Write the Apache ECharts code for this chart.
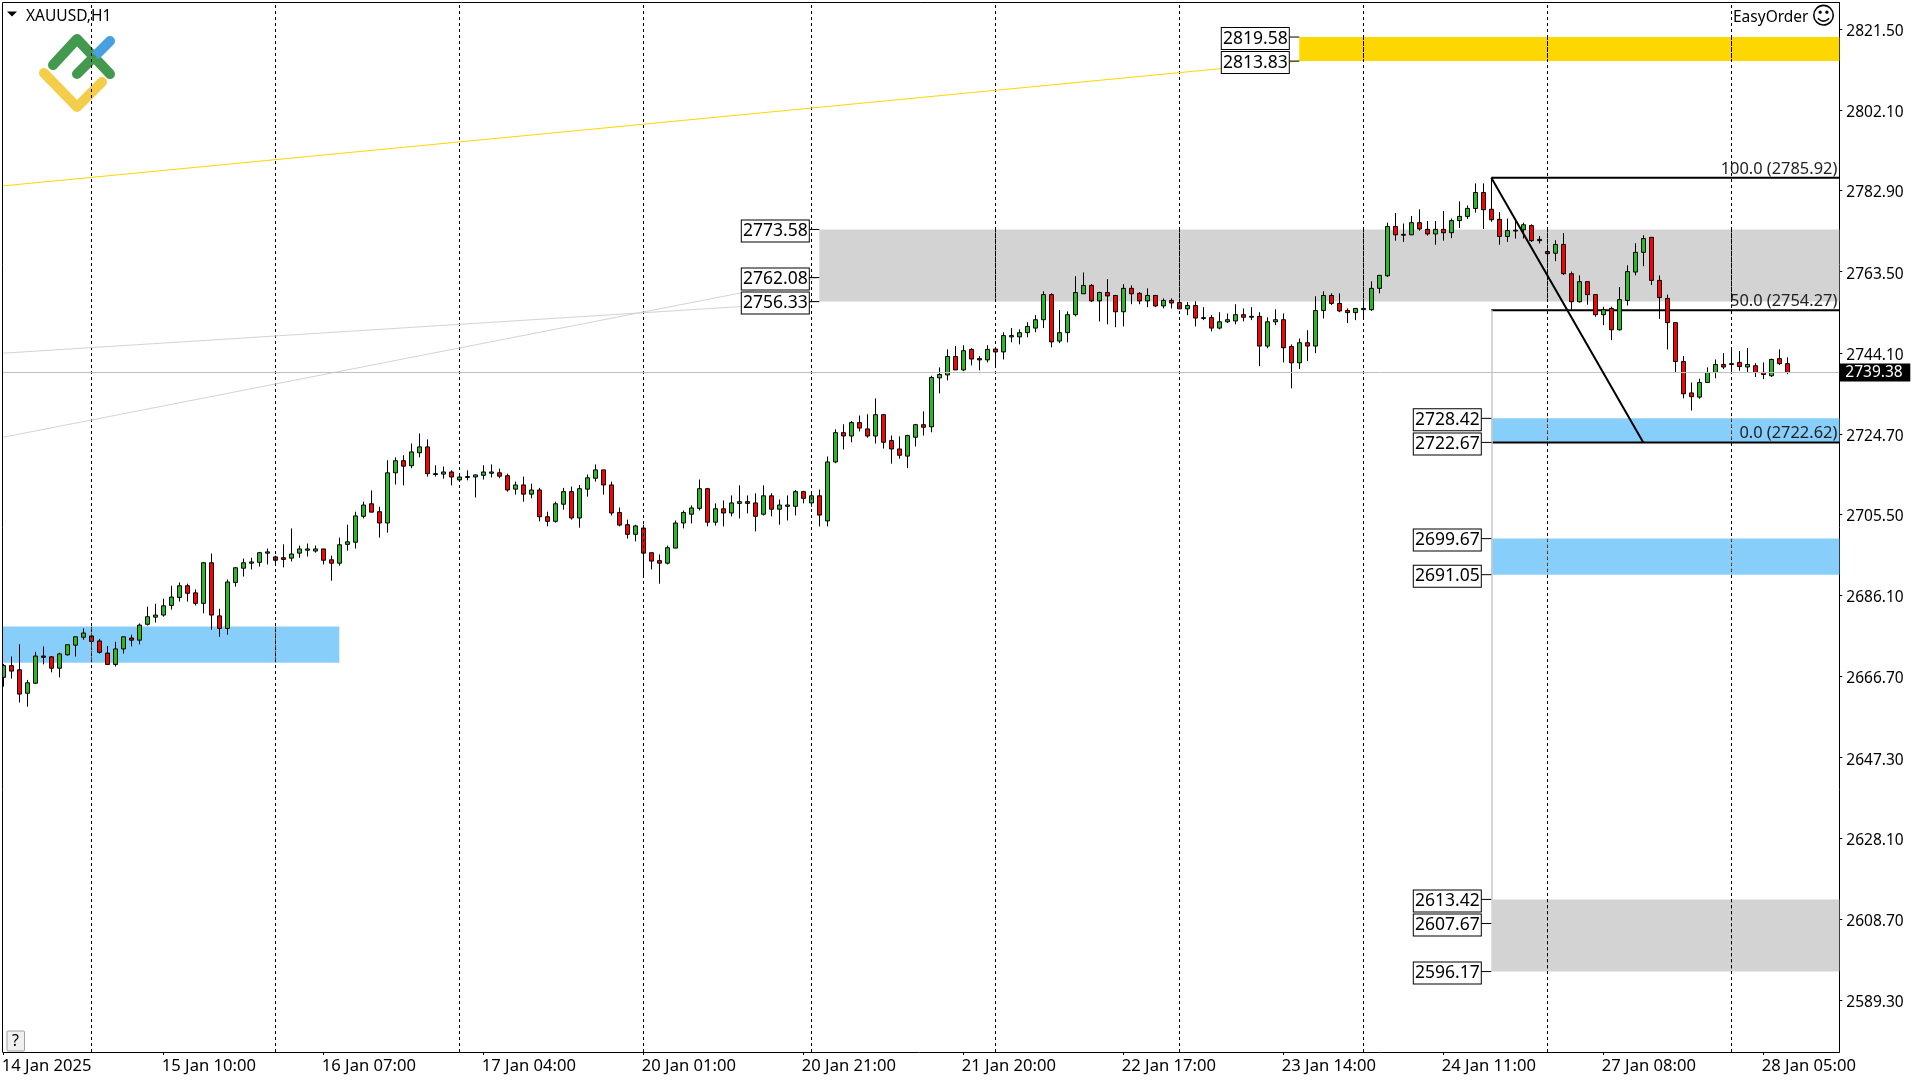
<!DOCTYPE html>
<html>
<head>
<meta charset="utf-8">
<title>XAUUSD,H1</title>
<style>
html,body{margin:0;padding:0;background:#fff;}
#content{width:1920px;height:1080px;}
</style>
<script src="https://cdn.jsdelivr.net/npm/echarts@6/dist/echarts.min.js"></script>
</head>
<body>
<div id="content"></div>
<script>
// [open, close, low, high]
var candles = [
[2666.5,2669.3,2664.3,2669.7],[2669.3,2668.0,2666.2,2671.5],[2668.3,2662.5,2660.5,2674.4],[2662.7,2665.2,2659.5,2665.9],
[2665.1,2671.6,2664.9,2672.6],[2671.6,2671.3,2669.6,2673.9],[2671.4,2668.7,2667.7,2671.6],[2668.7,2672.1,2666.5,2672.4],
[2671.9,2674.3,2671.7,2674.3],[2674.2,2676.2,2671.5,2676.2],[2676.1,2677.1,2675.5,2678.2],[2676.4,2675.1,2673.6,2676.4],
[2675.2,2672.5,2672.2,2675.7],[2672.3,2669.6,2669.6,2674.0],[2669.6,2673.3,2669.1,2675.0],[2673.3,2676.2,2672.2,2676.2],
[2675.9,2675.4,2673.9,2676.7],[2675.4,2679.0,2674.4,2679.4],[2679.2,2681.0,2678.9,2683.4],[2680.9,2681.4,2679.6,2684.1],
[2681.4,2683.6,2681.0,2685.3],[2683.7,2685.7,2682.7,2688.4],[2685.6,2688.4,2684.6,2689.2],[2688.4,2686.6,2684.6,2688.9],
[2686.7,2684.2,2683.7,2687.5],[2684.2,2693.9,2681.8,2694.1],[2693.9,2681.4,2677.9,2696.1],[2681.2,2678.2,2676.2,2682.9],
[2678.2,2689.3,2676.7,2689.9],[2689.2,2692.7,2688.2,2692.9],[2692.6,2693.9,2690.6,2694.9],[2693.8,2694.1,2692.3,2695.1],
[2694.0,2696.3,2693.0,2696.5],[2696.2,2696.5,2693.5,2697.3],[2695.3,2694.5,2693.6,2695.6],[2695.1,2694.7,2692.8,2698.3],
[2695.0,2696.0,2694.2,2702.1],[2696.2,2697.2,2695.1,2698.0],[2696.9,2697.2,2695.4,2698.5],[2696.7,2697.2,2696.3,2698.0],
[2697.2,2694.5,2693.5,2697.2],[2694.6,2693.8,2689.6,2695.6],[2693.8,2698.2,2693.2,2699.9],[2698.3,2698.9,2696.8,2703.0],
[2698.8,2705.1,2697.3,2706.1],[2705.0,2707.7,2704.5,2708.5],[2708.0,2706.0,2706.0,2711.2],[2706.1,2703.4,2699.9,2707.3],
[2703.4,2715.4,2701.1,2718.4],[2715.4,2718.3,2712.6,2719.1],[2718.3,2717.0,2712.4,2719.6],[2717.1,2720.4,2716.5,2722.4],
[2720.2,2721.6,2719.1,2724.8],[2721.6,2715.2,2714.5,2723.4],[2715.0,2715.2,2714.5,2717.2],[2715.1,2715.6,2714.0,2716.9],
[2715.6,2714.4,2712.4,2716.0],[2713.7,2714.4,2713.6,2714.7],[2714.3,2714.5,2713.6,2716.0],[2714.4,2714.9,2709.5,2715.0],
[2714.8,2715.6,2713.8,2717.2],[2715.3,2715.6,2714.3,2717.4],[2715.4,2714.6,2714.1,2716.4],[2714.7,2711.3,2710.9,2715.2],
[2711.5,2712.5,2710.2,2713.3],[2712.5,2710.3,2708.5,2714.5],[2710.3,2711.3,2709.3,2712.8],[2711.3,2704.9,2703.8,2711.8],
[2704.9,2703.8,2702.6,2706.1],[2703.8,2708.0,2703.5,2708.5],[2707.9,2710.9,2706.6,2711.8],[2710.9,2704.6,2704.2,2712.1],
[2704.6,2711.6,2702.3,2712.5],[2711.5,2714.2,2709.7,2715.0],[2714.1,2716.1,2713.3,2717.4],[2716.1,2712.5,2710.2,2716.1],
[2712.5,2705.8,2705.2,2713.3],[2705.9,2702.9,2702.6,2707.1],[2703.0,2700.7,2699.7,2704.2],[2700.7,2702.7,2699.0,2703.0],
[2702.2,2696.2,2690.6,2703.0],[2696.3,2694.3,2692.3,2696.3],[2694.4,2693.8,2688.9,2695.9],[2693.8,2697.5,2693.5,2698.0],
[2697.4,2703.4,2697.4,2704.0],[2703.4,2705.9,2702.1,2706.4],[2705.5,2707.0,2703.3,2707.6],[2706.9,2711.6,2706.4,2713.8],
[2711.6,2703.6,2702.6,2711.8],[2703.6,2706.8,2702.8,2708.1],[2706.8,2705.8,2702.6,2708.8],[2705.8,2708.2,2705.0,2710.0],
[2708.1,2708.5,2704.5,2712.4],[2708.5,2708.1,2705.7,2710.0],[2708.2,2705.0,2701.4,2710.5],[2705.5,2709.9,2705.2,2712.4],
[2709.9,2706.7,2705.0,2710.5],[2706.7,2707.7,2703.0,2709.0],[2707.4,2707.7,2704.0,2710.0],[2707.4,2710.9,2705.2,2711.3],
[2710.9,2709.3,2708.1,2711.1],[2708.2,2709.9,2707.3,2710.8],[2709.9,2705.3,2702.6,2711.4],[2703.9,2718.0,2702.6,2719.3],
[2718.0,2725.0,2717.7,2725.8],[2725.0,2724.2,2721.0,2727.0],[2724.2,2727.4,2722.7,2727.8],[2727.4,2726.1,2725.3,2729.1],
[2725.9,2724.2,2723.8,2729.4],[2724.2,2729.3,2722.4,2733.2],[2729.3,2722.7,2721.2,2729.5],[2723.1,2721.1,2717.6,2724.3],
[2721.1,2719.6,2718.8,2724.1],[2719.4,2724.3,2716.5,2724.5],[2723.9,2726.9,2721.7,2727.1],[2726.9,2726.3,2724.3,2730.1],
[2726.4,2738.2,2725.1,2738.6],[2738.1,2738.9,2734.4,2740.6],[2738.8,2743.2,2737.5,2744.9],[2743.2,2740.0,2740.0,2745.7],
[2740.0,2744.6,2739.7,2745.9],[2744.9,2742.6,2741.1,2745.2],[2742.7,2742.4,2739.9,2743.3],[2742.4,2744.9,2741.8,2745.9],
[2745.0,2744.3,2741.1,2745.0],[2744.3,2748.2,2742.5,2749.0],[2747.9,2748.2,2746.6,2750.0],[2747.9,2748.9,2746.1,2749.7],
[2748.9,2750.4,2747.8,2751.4],[2750.0,2752.0,2749.0,2753.1],[2752.0,2758.0,2750.0,2758.8],[2758.0,2746.7,2745.4,2758.3],
[2746.9,2748.9,2746.4,2754.3],[2748.9,2753.2,2746.6,2754.0],[2753.2,2758.5,2752.8,2762.4],[2758.2,2760.2,2758.2,2763.3],
[2760.2,2756.5,2756.2,2760.5],[2756.5,2758.5,2751.6,2758.7],[2758.5,2757.7,2750.9,2761.7],[2757.8,2753.9,2750.2,2757.9],
[2753.9,2759.5,2750.4,2760.5],[2759.5,2758.2,2755.7,2760.2],[2758.3,2756.5,2755.7,2758.6],[2756.5,2757.8,2755.0,2759.5],
[2757.8,2755.3,2755.0,2757.8],[2755.3,2756.6,2754.7,2757.1],[2756.6,2756.0,2754.7,2757.1],[2756.1,2754.6,2754.6,2756.3],
[2754.6,2755.4,2753.1,2756.2],[2755.4,2752.4,2750.4,2756.4],[2752.5,2752.3,2751.9,2755.0],[2752.5,2750.0,2749.2,2753.1],
[2750.0,2751.5,2749.7,2753.8],[2751.5,2752.0,2751.2,2753.5],[2751.7,2753.2,2750.9,2755.7],[2753.2,2752.6,2751.6,2754.7],
[2752.6,2752.8,2751.9,2755.0],[2752.8,2745.7,2740.9,2753.8],[2745.7,2751.5,2745.2,2752.6],[2751.5,2752.0,2750.7,2754.5],
[2752.0,2745.3,2741.8,2753.5],[2745.6,2741.7,2735.6,2746.1],[2741.7,2746.5,2740.2,2747.5],[2746.5,2745.7,2742.1,2749.5],
[2745.7,2754.2,2744.0,2757.6],[2754.2,2757.8,2752.3,2758.8],[2757.8,2755.9,2755.5,2758.3],[2755.9,2754.1,2753.8,2758.3],
[2754.2,2753.7,2751.2,2754.7],[2753.7,2754.7,2751.9,2754.8],[2754.4,2754.7,2752.6,2756.2],[2754.4,2759.5,2754.1,2761.2],
[2759.5,2762.6,2758.3,2762.6],[2762.5,2774.3,2762.2,2775.2],[2774.3,2772.3,2770.9,2777.5],[2772.2,2772.4,2770.6,2775.0],
[2772.3,2775.2,2772.3,2776.8],[2775.2,2773.7,2773.3,2778.4],[2773.6,2772.5,2772.1,2775.6],[2772.5,2773.6,2769.9,2775.6],
[2773.6,2772.8,2770.9,2778.0],[2772.8,2775.7,2771.5,2776.2],[2775.7,2776.7,2773.9,2780.3],[2776.7,2778.6,2776.1,2779.3],
[2778.6,2782.4,2777.6,2784.6],[2782.4,2778.3,2773.7,2784.6],[2778.4,2775.9,2775.4,2785.9],[2776.0,2771.9,2769.9,2777.7],
[2771.9,2773.3,2770.6,2776.2],[2773.2,2773.4,2771.4,2775.6],[2773.5,2774.7,2771.4,2775.2],[2774.5,2770.9,2770.6,2774.8],
[2771.2,2770.9,2770.2,2772.0],[2768.3,2767.8,2765.7,2768.8],[2767.9,2770.0,2766.0,2771.0],[2770.0,2763.0,2762.7,2772.7],
[2763.0,2756.3,2754.4,2763.5],[2756.3,2761.1,2756.1,2762.6],[2761.1,2758.0,2755.6,2761.1],[2758.0,2753.2,2752.7,2758.0],
[2753.2,2754.4,2750.7,2755.1],[2754.7,2749.6,2747.1,2755.1],[2749.6,2756.8,2749.4,2759.8],[2756.6,2763.5,2755.4,2765.0],
[2763.4,2768.1,2762.6,2770.3],[2768.1,2771.4,2764.8,2772.2],[2771.7,2761.4,2760.3,2771.7],[2761.4,2757.3,2752.2,2762.6],
[2757.1,2751.3,2744.9,2758.0],[2751.3,2742.0,2739.5,2751.3],[2742.0,2734.3,2733.2,2743.3],[2734.5,2733.6,2730.3,2737.0],
[2733.5,2737.0,2733.1,2737.9],[2737.0,2739.4,2737.0,2740.6],[2739.4,2741.3,2738.0,2742.5],[2741.3,2740.7,2740.2,2744.0],
[2741.3,2741.5,2739.4,2744.9],[2741.8,2740.8,2739.8,2744.5],[2740.7,2741.3,2739.4,2745.2],[2741.0,2739.4,2738.3,2741.6],
[2739.4,2738.9,2737.8,2741.8],[2738.6,2742.5,2738.3,2742.7],[2742.7,2741.5,2741.2,2744.9],[2741.5,2739.38,2739.0,2743.0]
];

var totalBars = 230; // empty bars on the right of the last candle
var tickIndex = [0,20,40,60,80,100,120,140,160,180,200,220];
var tickLabels = ['14 Jan 2025','15 Jan 10:00','16 Jan 07:00','17 Jan 04:00','20 Jan 01:00','20 Jan 21:00','21 Jan 20:00','22 Jan 17:00','23 Jan 14:00','24 Jan 11:00','27 Jan 08:00','28 Jan 05:00'];
var priceTicks = [2589.30,2608.70,2628.10,2647.30,2666.70,2686.10,2705.50,2724.70,2744.10,2763.50,2782.90,2802.10,2821.50];
var daySeparators = [11,34,57,80,101,124,147,170,193,216];
var lastPrice = 2739.38;

// from bar (null = plot edge), to bar (null = plot edge), top, bottom, fill, colour of the dashes on it
var zones = [
  [162,null,2819.58,2813.83,'#FFD700','#0000ff'],
  [102,null,2773.58,2756.33,'#D3D3D3','#000000'],
  [186,null,2728.42,2722.67,'#87CEFA','#7a3c10'],
  [186,null,2699.67,2691.05,'#87CEFA','#7a3c10'],
  [186,null,2613.42,2596.17,'#D3D3D3','#000000'],
  [null,42,2678.66,2670.00,'#87CEFA','#7a3c10']
];
// bar, price of the boxed levels
var levels = [
  [162,2819.58],[162,2813.83],
  [102,2773.58],[102,2762.08],[102,2756.33],
  [186,2728.42],[186,2722.67],[186,2699.67],[186,2691.05],[186,2613.42],[186,2607.67],[186,2596.17]
];
var fibBar = 186;
var fibLevels = [[100.0,2785.92],[50.0,2754.27],[0.0,2722.62]];
var fibStem = [[186,2754.27],[186,2613.42]];
var zigzag = [[186,2785.92],[205,2722.62]];
var goldLine = [[0,2784.0],[162,2813.83]];
var grayLines = [[[0,2744.0],[102,2756.33]],[[0,2723.9],[102,2762.08]]];

var cats = [];
for (var i = 0; i < totalBars; i++) {
  var t = tickIndex.indexOf(i);
  cats.push(t >= 0 ? tickLabels[t] : '');
}
function isTick(idx) { return tickIndex.indexOf(idx) >= 0; }

var fontName = '"Noto Sans", sans-serif';
var myChart = echarts.init(document.getElementById('content'));

var sepData = daySeparators.map(function (k) { return {xAxis: k}; });

var zoneData = zones.map(function (z) {
  var a = {yAxis: z[2], itemStyle: {color: z[4]}};
  var b = {yAxis: z[3]};
  if (z[0] !== null) a.xAxis = z[0];
  if (z[1] !== null) b.xAxis = z[1];
  return [a, b];
});

// dashes that show through the zones
var dashData = [];
zones.forEach(function (z) {
  daySeparators.forEach(function (k) {
    var from = z[0] === null ? 0 : z[0];
    var to = z[1] === null ? totalBars : z[1];
    if (k > from && k < to) {
      dashData.push([{coord: [k, z[2]], lineStyle: {color: z[5]}}, {coord: [k, z[3]]}]);
    }
  });
});

var fibData = fibLevels.map(function (f) {
  return [{
    xAxis: fibBar, yAxis: f[1],
    label: {formatter: f[0].toFixed(1) + ' (' + f[1].toFixed(2) + ')'}
  }, {yAxis: f[1]}];
});

function segments(list) {
  return list.map(function (s) { return [{coord: s[0]}, {coord: s[1]}]; });
}

var option = {
  backgroundColor: '#fff',
  animation: false,
  textStyle: {fontFamily: fontName},
  grid: {left: -0.7, top: 2.5, width: 1840, height: 1049.5, show: false, outerBoundsMode: 'none'},
  xAxis: {
    type: 'category',
    data: cats,
    boundaryGap: true,
    axisLine: {show: true, lineStyle: {color: '#000', width: 1}},
    axisTick: {show: true, alignWithLabel: true, length: 3, interval: function (idx) { return isTick(idx); }, lineStyle: {color: '#000'}},
    axisLabel: {
      show: true, interval: function (idx) { return isTick(idx); },
      align: 'left', margin: 6, color: '#000', fontSize: 16.6, fontFamily: fontName,
      padding: [0, 0, 0, -1.5]
    },
    splitLine: {show: false}
  },
  yAxis: {
    type: 'value',
    position: 'right',
    min: 2576.94,
    max: 2827.835,
    axisLine: {show: true, lineStyle: {color: '#000', width: 1}},
    axisTick: {show: true, length: 3, customValues: priceTicks, lineStyle: {color: '#000'}},
    axisLabel: {
      show: true, customValues: priceTicks, margin: 7, color: '#000', fontSize: 15.5, fontFamily: fontName,
      verticalAlign: 'top', lineHeight: 5,
      formatter: function (v) { return v.toFixed(2); }
    },
    splitLine: {show: false}
  },
  series: [
    {
      // day separators under the zones
      type: 'line', data: [], z: 1, silent: true,
      markLine: {
        silent: true, symbol: 'none', animation: false, label: {show: false},
        lineStyle: {color: '#000', type: [3, 3], width: 1},
        data: sepData
      }
    },
    {
      type: 'line', data: [], z: 1.5, silent: true,
      markArea: {silent: true, animation: false, data: zoneData}
    },
    {
      type: 'line', data: [], z: 1.6, silent: true,
      markLine: {
        silent: true, symbol: 'none', animation: false, label: {show: false},
        lineStyle: {type: [3, 3], width: 1},
        data: dashData
      }
    },
    {
      type: 'line', data: [], z: 1.7, silent: true,
      markLine: {
        silent: true, symbol: 'none', animation: false, label: {show: false},
        lineStyle: {color: '#D3D3D3', type: 'solid', width: 1},
        data: segments(grayLines)
      }
    },
    {
      type: 'line', data: [], z: 1.75, silent: true,
      markLine: {
        silent: true, symbol: 'none', animation: false, label: {show: false},
        lineStyle: {color: '#C8C8C8', type: 'solid', width: 1.5},
        data: segments([fibStem])
      }
    },
    {
      // last price line
      type: 'line', data: [], z: 1.8, silent: true,
      markLine: {
        silent: true, symbol: 'none', animation: false,
        lineStyle: {color: '#C0C0C0', type: 'solid', width: 1},
        label: {
          show: true, position: 'end', distance: 0, backgroundColor: '#000', color: '#fff',
          fontSize: 15.5, fontFamily: fontName, width: 65, height: 18, lineHeight: 21, padding: [0, 0, 0, 6], align: 'left',
          formatter: function (p) { return p.value.toFixed(2); }
        },
        data: [{yAxis: lastPrice}]
      }
    },
    {
      type: 'candlestick',
      data: candles,
      z: 3,
      barWidth: 5,
      itemStyle: {
        color: '#1FBF1F', color0: '#FF0000',
        borderColor: '#000', borderColor0: '#000', borderColorDoji: '#000', borderWidth: 1
      },
      silent: true
    },
    {
      // fibonacci levels
      type: 'line', data: [], z: 4, silent: true,
      markArea: {
        silent: true, animation: false,
        itemStyle: {color: 'rgba(0,0,0,0)', borderColor: '#000', borderWidth: 2},
        label: {show: true, position: 'insideBottomRight', distance: 2, color: '#222', fontSize: 16.4, fontFamily: fontName, offset: [-1, 0]},
        data: fibData
      },
      markLine: {
        silent: true, symbol: 'none', animation: false, label: {show: false},
        lineStyle: {color: '#000', type: 'solid', width: 2},
        data: segments([zigzag])
      }
    },
    {
      // boxed levels, left of the zones
      type: 'scatter', z: 5, silent: true,
      data: levels,
      symbol: 'rect', symbolSize: [10, 1], symbolOffset: [-5, 0],
      itemStyle: {color: '#000', opacity: 1},
      label: {
        show: true, position: 'left', distance: 0, offset: [-34, 1.5],
        backgroundColor: '#fff', borderColor: '#000', borderWidth: 1,
        width: 67, height: 21, lineHeight: 21, align: 'center', verticalAlign: 'middle',
        color: '#000', fontSize: 17.5, fontFamily: fontName,
        formatter: function (p) { return p.value[1].toFixed(2); }
      }
    },
    {
      type: 'line', data: [], z: 6, silent: true,
      markLine: {
        silent: true, symbol: 'none', animation: false, label: {show: false},
        lineStyle: {color: '#FFD700', type: 'solid', width: 1},
        data: segments([goldLine])
      }
    }
  ],
  graphic: [
    // logo
    {type: 'polyline', z: 0, shape: {points: [[53, 65], [77, 39], [110, 74]]}, style: {stroke: '#439A4F', lineWidth: 10, fill: null, lineCap: 'round', lineJoin: 'round'}},
    {type: 'polyline', z: 0, shape: {points: [[97, 54], [110, 41]]}, style: {stroke: '#47A0DF', lineWidth: 10, fill: null, lineCap: 'round'}},
    {type: 'polyline', z: 0, shape: {points: [[77, 74], [92, 59]]}, style: {stroke: '#439A4F', lineWidth: 10, fill: null, lineCap: 'round'}},
    {type: 'polyline', z: 0, shape: {points: [[44, 73], [77, 107], [102, 82]]}, style: {stroke: '#F4CE4A', lineWidth: 10, fill: null, lineCap: 'round', lineJoin: 'round'}},
    // frame left and top
    {type: 'rect', z: 100, shape: {x: 0, y: 0, width: 2.5, height: 1080}, style: {fill: '#fff'}},
    {type: 'line', z: 101, shape: {x1: 2.5, y1: 2.5, x2: 2.5, y2: 1052}, style: {stroke: '#000', lineWidth: 1}},
    {type: 'line', z: 101, shape: {x1: 2.5, y1: 2.5, x2: 1839.3, y2: 2.5}, style: {stroke: '#000', lineWidth: 1}},
    // symbol header
    {type: 'polygon', z: 101, shape: {points: [[7, 11.5], [17, 11.5], [12, 16.5]]}, style: {fill: '#000'}},
    {type: 'text', z: 101, style: {x: 26, y: 17, text: 'XAUUSD,H1', fill: '#000', font: '15.5px ' + fontName, textVerticalAlign: 'middle'}},
    {type: 'text', z: 101, style: {x: 1733, y: 18, text: 'EasyOrder', fill: '#000', font: '15.5px ' + fontName, textVerticalAlign: 'middle'}},
    {type: 'text', z: 101, style: {x: 1823.5, y: 18, text: '\u263A', fill: '#000', font: '24px "DejaVu Sans"', textAlign: 'center', textVerticalAlign: 'middle'}},
    // ? button
    {type: 'rect', z: 101, shape: {x: 7, y: 1031, width: 17.5, height: 20, r: 1}, style: {fill: '#F0F0F0', stroke: '#A0A0A0', lineWidth: 1}},
    {type: 'text', z: 102, style: {x: 15.5, y: 1041, text: '?', fill: '#000', font: '16px ' + fontName, textAlign: 'center', textVerticalAlign: 'middle'}}
  ]
};

myChart.setOption(option);
</script>
</body>
</html>
